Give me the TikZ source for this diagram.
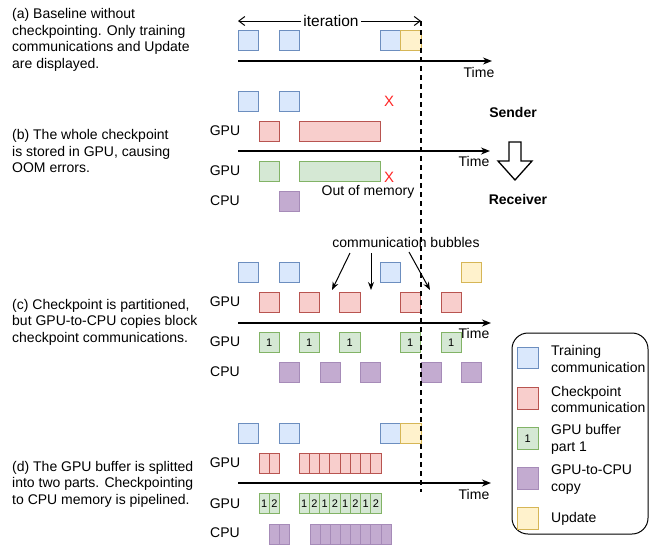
\documentclass[tikz,border=0pt]{standalone}
\usepackage{fontspec}
\setmainfont{Liberation Sans}
\usetikzlibrary{arrows.meta}

\definecolor{tcfill}{HTML}{DAE8FC}
\definecolor{tcline}{HTML}{6C8EBF}
\definecolor{ckfill}{HTML}{F8CECC}
\definecolor{ckline}{HTML}{B85450}
\definecolor{gbfill}{HTML}{D5E8D4}
\definecolor{gbline}{HTML}{82B366}
\definecolor{cpfill}{HTML}{C3ABD0}
\definecolor{cpline}{HTML}{A68BB8}
\definecolor{upfill}{HTML}{FFF2CC}
\definecolor{upline}{HTML}{D6B656}

\tikzset{
  box/.style={draw, line width=1pt, anchor=north west, minimum width=20.5pt,
    minimum height=20.5pt, inner sep=0pt, outer sep=0pt},
  tc/.style={box, fill=tcfill, draw=tcline},
  ck/.style={box, fill=ckfill, draw=ckline},
  gb/.style={box, fill=gbfill, draw=gbline, font=\fontsize{11}{11}\selectfont},
  cp/.style={box, fill=cpfill, draw=cpline},
  up/.style={box, fill=upfill, draw=upline},
  half/.style={minimum width=10.25pt},
  lbl/.style={font=\fontsize{14}{16.5}\selectfont, inner sep=0pt},
  desc/.style={lbl, anchor=west, align=left},
  axis/.style={line width=1.5pt, -{Stealth[length=9pt,width=7pt]}},
  fail/.style={lbl, text=red!85!white, font=\fontsize{15}{15}\selectfont},
}

\begin{document}
\begin{tikzpicture}[x=1pt, y=-1pt]
    \useasboundingbox (0,0) rectangle (656,544);

    % descriptions
    \node[desc] (da) at (12,40) {(a) Baseline without\\checkpointing. Only training\\communications and Update\\are displayed.};
    \node[desc] (db) at (12,151) {(b) The whole checkpoint\\is stored in GPU, causing\\OOM errors.};
    \node[desc] (dc) at (12,322) {(c) Checkpoint is partitioned,\\but GPU-to-CPU copies block\\checkpoint communications.};
    \node[desc] (dd) at (12,484) {(d) The GPU buffer is splitted\\into two parts. Checkpointing\\to CPU memory is pipelined.};

    % iteration
    \coordinate (is) at (238,21);
    \coordinate (ie) at (421,21);
    \draw[line width=1pt, {Straight Barb[length=6pt,width=9pt]}-{Straight Barb[length=6pt,width=9pt]}] (is) -- (ie);
    \node[lbl, fill=white, inner xsep=2pt, font=\fontsize{15.5}{16}\selectfont] (it) at (331,21) {iteration};

    % (a)
    \node[tc] (at1) at (238,30) {};
    \node[tc] (at2) at (279,30) {};
    \node[tc] (at3) at (380,30) {};
    \node[up] (au) at (400.5,30) {};
    \coordinate (as) at (238,61);
    \coordinate (ae) at (492,61);
    \draw[axis] (as) -- (ae);
    \node[lbl] (atm) at (479,72) {Time};

    % (b)
    \node[tc] (bt1) at (238,91) {};
    \node[tc] (bt2) at (279,91) {};
    \node[fail] (bx1) at (389,101) {X};
    \node[lbl] (bg1) at (225,131) {GPU};
    \node[ck] (bk1) at (259,121) {};
    \node[ck, minimum width=81pt] (bk2) at (299,121) {};
    \coordinate (bs) at (238,151);
    \coordinate (be) at (490,151);
    \draw[axis] (bs) -- (be);
    \node[lbl] (btm) at (474,161) {Time};
    \node[lbl] (bg2) at (225,171) {GPU};
    \node[gb] (bb1) at (259,161) {};
    \node[gb, minimum width=81pt] (bb2) at (299,161) {};
    \node[fail] (bx2) at (389,177) {X};
    \node[lbl] (bom) at (368,192) {Out of memory};
    \node[lbl] (bc) at (225,201) {CPU};
    \node[cp] (bp1) at (279,191) {};

    % sender / receiver
    \node[lbl, font=\fontsize{14}{16}\bfseries] (snd) at (513,112) {Sender};
    \node[lbl, font=\fontsize{14}{16}\bfseries] (rcv) at (518,199) {Receiver};
    \draw[line width=1.3pt, fill=white] (509,142) -- (521,142) -- (521,161) -- (532,161)
        -- (515,180) -- (498,161) -- (509,161) -- cycle;

    % (c)
    \node[lbl] (cb) at (406,242) {communication bubbles};
    \node[tc] (ct1) at (238,262) {};
    \node[tc] (ct2) at (279,262) {};
    \node[tc] (ct3) at (380,262) {};
    \node[up] (cu) at (461,262) {};
    \node[lbl] (cg1) at (225,302) {GPU};
    \node[ck] (ck1) at (259,292) {};
    \node[ck] (ck2) at (299,292) {};
    \node[ck] (ck3) at (339.5,292) {};
    \node[ck] (ck4) at (400,292) {};
    \node[ck] (ck5) at (441,292) {};
    \coordinate (cs) at (238,323);
    \coordinate (ce) at (491,323);
    \draw[axis] (cs) -- (ce);
    \node[lbl] (ctm) at (474,333) {Time};
    \node[lbl] (cg2) at (225,342) {GPU};
    \node[gb] (cb1) at (259,332) {1};
    \node[gb] (cb2) at (299,332) {1};
    \node[gb] (cb3) at (339.5,332) {1};
    \node[gb] (cb4) at (400,332) {1};
    \node[gb] (cb5) at (441,332) {1};
    \node[lbl] (cc) at (225,372) {CPU};
    \node[cp] (cp1) at (279,362) {};
    \node[cp] (cp2) at (320,362) {};
    \node[cp] (cp3) at (360,362) {};
    \node[cp] (cp4) at (421,362) {};
    \node[cp] (cp5) at (461,362) {};
    % bubbles
    \coordinate (bb1s) at (350,253);
    \coordinate (bb1e) at (332,290);
    \coordinate (bb2s) at (371,253);
    \coordinate (bb2e) at (371,290);
    \coordinate (bb3s) at (409,252);
    \coordinate (bb3e) at (430,290);
    \draw[line width=1pt, -{Stealth[length=8pt,width=6pt]}] (bb1s) -- (bb1e);
    \draw[line width=1pt, -{Stealth[length=8pt,width=6pt]}] (bb2s) -- (bb2e);
    \draw[line width=1pt, -{Stealth[length=8pt,width=6pt]}] (bb3s) -- (bb3e);

    % (d)
    \node[tc] (dt1) at (238,423) {};
    \node[tc] (dt2) at (279,423) {};
    \node[tc] (dt3) at (380,423) {};
    \node[up] (du) at (400.5,423) {};
    \node[lbl] (dg1) at (225,463) {GPU};
    \node[ck, half] (dk1) at (259,453) {};
    \node[ck, half] (dk2) at (269.25,453) {};
    \foreach \i in {0,...,7}
        \node[ck, half] (dkk\i) at (299+\i*10.25,453) {};
    \coordinate (ds) at (238,483);
    \coordinate (de) at (491,483);
    \draw[axis] (ds) -- (de);
    \node[lbl] (dtm) at (474,494) {Time};
    \node[lbl] (dg2) at (225,504) {GPU};
    \node[gb, half] (db1) at (259,493) {1};
    \node[gb, half] (db2) at (269.25,493) {2};
    \foreach \i/\t in {0/1,1/2,2/1,3/2,4/1,5/2,6/1,7/2}
        \node[gb, half] (dbb\i) at (299+\i*10.25,493) {\t};
    \node[lbl] (dc) at (225,533) {CPU};
    \node[cp, half] (dp1) at (269,524) {};
    \node[cp, half] (dp2) at (279.25,524) {};
    \foreach \i in {0,...,7}
        \node[cp, half] (dpp\i) at (310+\i*10.15,524) {};

    % iteration end line
    \coordinate (ls) at (421,21);
    \coordinate (le) at (421,492);
    \draw[line width=1.5pt, dash pattern=on 5pt off 4pt] (ls) -- (le);

    % legend
    \draw[line width=1pt, rounded corners=16pt] (512,333) rectangle (648,534);
    \node[tc, minimum size=21.5pt] (lt) at (517,347) {};
    \node[ck, minimum size=21.5pt] (lk) at (517,387.5) {};
    \node[gb, minimum size=21.5pt] (lb) at (517,427.5) {1};
    \node[cp, minimum size=21.5pt] (lp) at (517,467.5) {};
    \node[up, minimum size=21.5pt] (lu) at (517,507.5) {};
    \node[desc] (tt) at (551,359) {Training\\communication};
    \node[desc] (tk) at (551,399.5) {Checkpoint\\communication};
    \node[desc] (tb) at (551,439.5) {GPU buffer\\part 1};
    \node[desc] (tp) at (551,479.5) {GPU-to-CPU\\copy};
    \node[desc] (tu) at (551,519) {Update};
\end{tikzpicture}
\end{document}
